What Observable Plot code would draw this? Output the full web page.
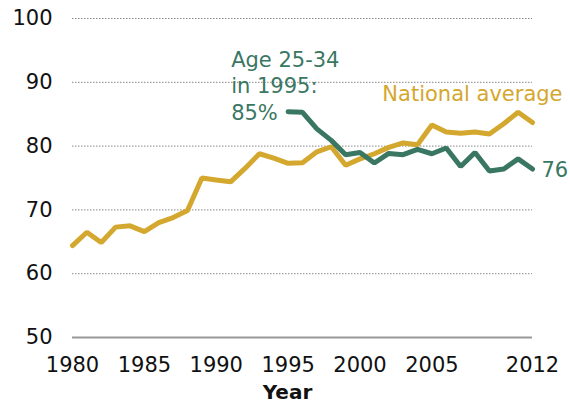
<!DOCTYPE html>
<html>
<head>
<meta charset="utf-8">
<script src="https://cdn.jsdelivr.net/npm/d3@7"></script>
<script src="https://cdn.jsdelivr.net/npm/@observablehq/plot@0.6"></script>
<style>
  html, body { margin: 0; padding: 0; background: #fff; }
  #chart svg { font-family: "DejaVu Sans", Verdana, sans-serif; }
</style>
</head>
<body>
<div id="chart"></div>
<script>
const nationalYears = [1980,1981,1982,1983,1984,1985,1986,1987,1988,1989,1990,1991,1992,1993,1994,1995,1996,1997,1998,1999,2000,2001,2002,2003,2004,2005,2006,2007,2008,2009,2010,2011,2012];
const nationalValues = [64.4,66.5,64.9,67.3,67.5,66.6,68.0,68.8,69.9,75.0,74.7,74.4,76.5,78.8,78.1,77.3,77.4,79.1,79.9,77.0,78.0,78.8,79.8,80.5,80.2,83.3,82.2,82.0,82.2,81.9,83.5,85.3,83.7];
const ageYears = [1995,1996,1997,1998,1999,2000,2001,2002,2003,2004,2005,2006,2007,2008,2009,2010,2011,2012];
const ageValues = [85.4,85.3,82.7,80.9,78.65,79.0,77.35,78.85,78.65,79.5,78.8,79.7,76.8,79.0,76.1,76.4,78.0,76.4];
const yTicks = [50,60,70,80,90,100];
const xTicks = [1980,1985,1990,1995,2000,2005,2012];

const gold = "#D4A72E";
const green = "#3A7763";

const national = nationalYears.map((y, i) => ({year: y, value: nationalValues[i]}));
const age = ageYears.map((y, i) => ({year: y, value: ageValues[i]}));

const chart = Plot.plot({
  width: 570,
  height: 404,
  marginLeft: 72,
  marginRight: 38,
  marginTop: 18,
  marginBottom: 67,
  style: {fontFamily: "DejaVu Sans, Verdana, sans-serif", fontSize: "21px", color: "#111", background: "#fff"},
  x: {domain: [1980, 2012]},
  y: {domain: [50, 100]},
  marks: [
    Plot.ruleY(yTicks.filter(d => d > 50), {stroke: "#888", strokeWidth: 1, strokeDasharray: "1.5,1.5"}),
    Plot.ruleY([50], {stroke: "#999", strokeWidth: 2}),
    Plot.axisY({ticks: yTicks, tickSize: 0, tickPadding: 20, label: null, fontSize: 21}),
    Plot.axisX({ticks: xTicks, tickSize: 0, tickPadding: 20, tickFormat: d => String(d), label: null, fontSize: 21}),
    Plot.line(national, {x: "year", y: "value", stroke: gold, strokeWidth: 5, strokeLinejoin: "miter"}),
    Plot.line(age, {x: "year", y: "value", stroke: green, strokeWidth: 5, strokeLinecap: "round", strokeLinejoin: "miter"}),
    Plot.text([age[0]], {x: "year", y: "value", text: () => "Age 25-34\nin 1995:\n85%", fill: green, textAnchor: "start", lineAnchor: "bottom", dx: -57, dy: 8, fontSize: 21, lineHeight: 1.25}),
    Plot.text([national[national.length - 1]], {x: "year", y: "value", text: () => "National average", fill: gold, textAnchor: "end", dx: 30, dy: -28, fontSize: 21}),
    Plot.text([age[age.length - 1]], {x: "year", y: "value", text: d => String(Math.round(d.value)), fill: green, textAnchor: "start", dx: 9, dy: 1, fontSize: 21}),
    Plot.text(["Year"], {frameAnchor: "bottom", text: d => d, dx: -15, dy: 61, fontWeight: "bold", fontSize: 20, fill: "#111"})
  ]
});
document.getElementById("chart").appendChild(chart);
</script>
</body>
</html>
